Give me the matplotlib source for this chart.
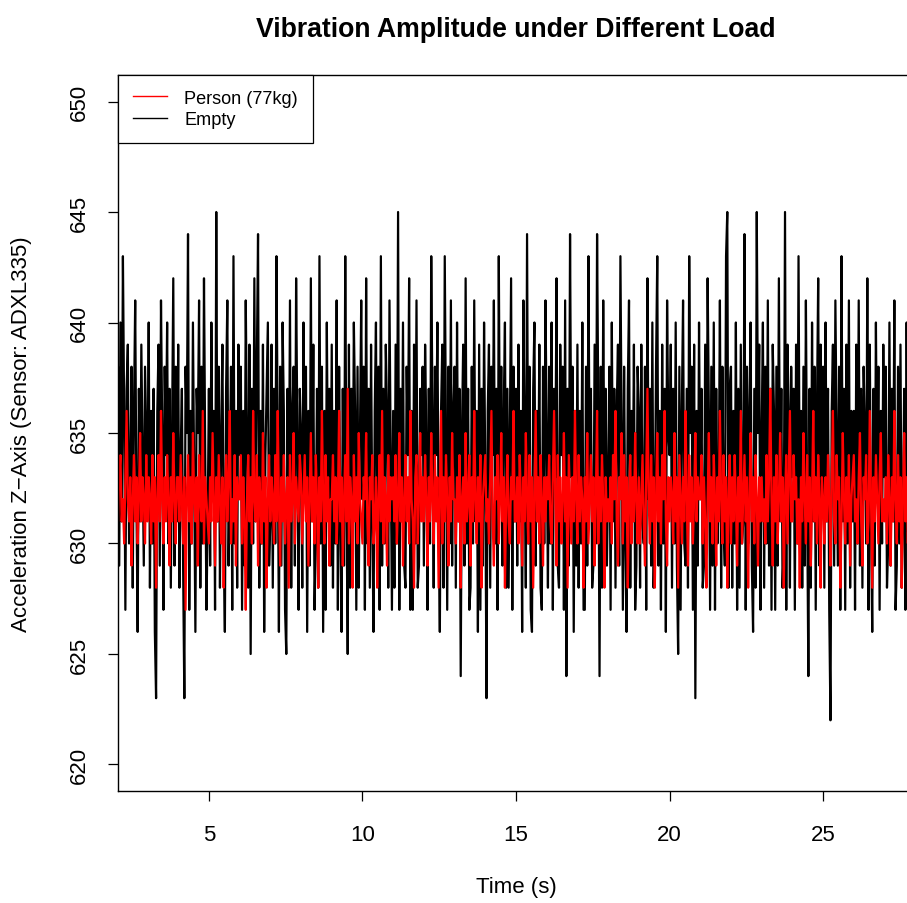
import numpy as np
import matplotlib
matplotlib.use("Agg")
import matplotlib.pyplot as plt

plt.rcParams['font.family'] = ['Liberation Sans', 'DejaVu Sans']

# sampling of both recordings (samples per second, first time stamp)
rate = 25
t_start = 2.0

# acceleration readings, empty platform (one row = one second)
empty = [
    635, 638, 629, 640, 631, 643, 636, 627, 637, 639, 630, 633, 638, 628, 636, 641, 632, 626, 637, 631, 639, 634, 629, 638, 635,
    632, 640, 628, 636, 630, 637, 626, 623, 636, 639, 629, 641, 635, 627, 638, 634, 640, 630, 637, 628, 635, 642, 629, 638, 631,
    639, 628, 634, 637, 629, 623, 638, 635, 644, 627, 636, 630, 640, 633, 626, 637, 635, 641, 628, 638, 630, 642, 634, 627, 631,
    637, 629, 640, 632, 636, 627, 645, 631, 638, 628, 635, 639, 630, 626, 637, 641, 629, 633, 638, 627, 643, 630, 636, 628, 639,
    634, 638, 627, 636, 629, 641, 635, 628, 639, 625, 637, 630, 642, 631, 638, 644, 628, 636, 630, 639, 626, 634, 637, 640, 629,
    631, 639, 628, 637, 630, 643, 635, 626, 638, 629, 640, 636, 627, 625, 637, 630, 641, 628, 636, 638, 629, 642, 635, 627, 637,
    635, 628, 640, 633, 638, 626, 636, 629, 642, 631, 639, 627, 630, 637, 628, 643, 630, 638, 626, 636, 627, 640, 632, 637, 629,
    639, 628, 636, 630, 641, 627, 638, 631, 626, 637, 629, 643, 632, 625, 639, 628, 637, 630, 640, 636, 627, 638, 628, 635, 641,
    632, 638, 627, 642, 630, 637, 628, 639, 631, 626, 636, 640, 629, 638, 627, 643, 629, 637, 630, 639, 636, 628, 641, 634, 627,
    636, 628, 639, 630, 645, 627, 637, 631, 640, 629, 628, 638, 634, 642, 627, 636, 627, 639, 630, 641, 628, 629, 637, 634, 638,
    629, 639, 635, 627, 637, 630, 643, 636, 628, 638, 634, 640, 631, 626, 636, 639, 628, 643, 635, 627, 638, 630, 641, 629, 636,
    638, 628, 640, 631, 637, 624, 635, 639, 629, 642, 630, 637, 627, 628, 638, 630, 641, 631, 636, 626, 639, 627, 637, 629, 640,
    633, 623, 636, 639, 628, 638, 634, 641, 630, 637, 627, 643, 632, 638, 629, 636, 640, 628, 637, 628, 635, 642, 627, 638, 631,
    637, 629, 639, 631, 636, 626, 641, 635, 628, 644, 630, 638, 627, 626, 637, 640, 629, 636, 631, 639, 628, 627, 638, 630, 641,
    635, 628, 638, 630, 640, 627, 637, 633, 642, 629, 628, 639, 634, 638, 627, 641, 624, 637, 629, 644, 633, 638, 626, 636, 629,
    639, 628, 636, 630, 640, 627, 627, 638, 629, 643, 632, 637, 628, 629, 639, 630, 644, 636, 624, 638, 628, 641, 632, 637, 629,
    633, 638, 627, 640, 631, 637, 628, 636, 639, 629, 643, 635, 627, 638, 630, 626, 637, 641, 628, 636, 631, 639, 627, 629, 638,
    636, 628, 639, 631, 630, 638, 627, 642, 632, 637, 629, 640, 628, 631, 638, 643, 629, 636, 627, 639, 630, 637, 626, 641, 635,
    634, 639, 628, 637, 630, 640, 629, 625, 638, 627, 636, 641, 630, 629, 637, 628, 643, 635, 638, 627, 639, 623, 636, 629, 640,
    632, 637, 628, 629, 639, 630, 642, 636, 627, 638, 629, 640, 627, 637, 630, 632, 641, 628, 638, 631, 629, 643, 645, 628, 637,
    638, 628, 636, 630, 640, 627, 637, 628, 639, 630, 631, 644, 627, 638, 630, 636, 640, 629, 626, 637, 628, 645, 635, 639, 627,
    635, 640, 628, 638, 630, 641, 629, 637, 627, 639, 636, 627, 638, 629, 642, 631, 637, 628, 630, 645, 627, 639, 636, 628, 638,
    633, 637, 627, 639, 630, 643, 631, 636, 628, 638, 629, 641, 632, 624, 637, 628, 640, 631, 638, 627, 636, 642, 629, 639, 632,
    638, 628, 640, 631, 637, 627, 622, 636, 639, 629, 641, 635, 629, 638, 627, 643, 631, 637, 627, 639, 630, 641, 628, 636, 631,
    636, 627, 639, 630, 641, 629, 637, 628, 638, 635, 630, 642, 627, 639, 631, 626, 637, 629, 640, 632, 638, 627, 636, 630, 639,
    633, 638, 628, 630, 640, 629, 637, 631, 641, 627, 629, 638, 630, 639, 628, 631, 637, 627, 640, 630, 636, 628, 638, 631, 629,
]

# acceleration readings with a 77 kg person on the platform
person = [
    632, 631, 633, 634, 631, 632, 630, 633, 636, 632, 631, 633, 629, 632, 634, 631, 633, 630, 632, 635, 631, 633, 632, 630, 634,
    631, 633, 632, 630, 634, 631, 633, 628, 632, 634, 631, 636, 632, 630, 633, 631, 634, 632, 629, 633, 631, 635, 632, 630, 633,
    633, 631, 634, 632, 630, 633, 627, 632, 634, 631, 633, 630, 635, 632, 631, 633, 629, 634, 632, 631, 636, 630, 633, 632, 631,
    630, 633, 631, 635, 632, 629, 633, 631, 634, 632, 630, 633, 628, 632, 634, 631, 633, 636, 630, 632, 631, 634, 629, 633, 632,
    632, 634, 630, 633, 631, 627, 632, 634, 631, 633, 630, 636, 632, 631, 634, 629, 633, 632, 630, 635, 631, 633, 628, 632, 634,
    631, 633, 632, 630, 634, 631, 636, 632, 629, 633, 631, 634, 630, 632, 633, 628, 634, 631, 632, 635, 630, 633, 632, 631, 634,
    633, 630, 632, 634, 631, 633, 629, 632, 635, 631, 633, 630, 634, 632, 628, 633, 631, 636, 632, 630, 634, 631, 633, 629, 632,
    632, 634, 631, 633, 630, 632, 636, 631, 633, 629, 632, 634, 631, 637, 630, 633, 632, 628, 634, 631, 633, 630, 635, 632, 631,
    630, 633, 632, 635, 631, 629, 633, 632, 634, 630, 631, 633, 628, 632, 634, 631, 636, 630, 633, 632, 629, 634, 631, 633, 632,
    633, 631, 634, 630, 632, 635, 631, 633, 629, 632, 634, 631, 633, 630, 636, 632, 631, 628, 633, 634, 630, 632, 635, 631, 633,
    631, 634, 632, 629, 633, 631, 635, 632, 630, 634, 631, 633, 628, 632, 636, 630, 633, 631, 634, 632, 629, 633, 631, 635, 632,
    632, 630, 633, 631, 634, 628, 632, 633, 630, 635, 631, 632, 634, 629, 633, 631, 636, 632, 630, 633, 631, 634, 628, 632, 633,
    634, 631, 632, 630, 633, 636, 631, 629, 633, 632, 634, 630, 632, 635, 631, 633, 628, 632, 634, 631, 630, 633, 632, 636, 631,
    631, 633, 630, 634, 632, 629, 633, 631, 635, 632, 630, 634, 631, 633, 628, 632, 636, 631, 633, 630, 634, 632, 629, 633, 631,
    633, 632, 634, 631, 630, 633, 636, 632, 629, 634, 631, 633, 630, 632, 635, 631, 633, 628, 634, 632, 630, 633, 631, 636, 632,
    630, 634, 631, 633, 632, 628, 633, 631, 635, 630, 632, 634, 631, 633, 629, 632, 636, 630, 633, 631, 634, 632, 628, 633, 631,
    632, 631, 633, 630, 634, 632, 636, 631, 629, 633, 632, 635, 630, 634, 631, 633, 628, 632, 634, 630, 633, 631, 635, 632, 630,
    633, 630, 632, 634, 631, 629, 633, 637, 632, 630, 634, 631, 633, 628, 632, 635, 631, 633, 630, 634, 632, 636, 631, 629, 633,
    631, 633, 632, 630, 635, 631, 633, 628, 634, 632, 630, 633, 631, 636, 632, 629, 634, 631, 633, 630, 632, 635, 631, 633, 632,
    632, 634, 630, 633, 631, 628, 632, 635, 631, 633, 630, 634, 632, 629, 633, 631, 636, 632, 630, 634, 631, 633, 628, 632, 634,
    630, 633, 631, 634, 632, 629, 633, 631, 636, 630, 632, 634, 631, 633, 628, 632, 635, 631, 633, 630, 634, 632, 629, 633, 631,
    633, 631, 632, 630, 634, 631, 633, 637, 632, 629, 633, 631, 634, 630, 632, 635, 631, 633, 628, 632, 634, 630, 633, 636, 631,
    631, 634, 632, 633, 630, 632, 628, 633, 631, 635, 632, 630, 634, 631, 633, 629, 632, 636, 631, 633, 630, 634, 632, 628, 633,
    632, 630, 633, 631, 634, 632, 629, 633, 636, 631, 630, 634, 632, 633, 628, 631, 635, 632, 630, 633, 631, 634, 629, 632, 633,
    634, 631, 632, 630, 633, 635, 631, 629, 633, 632, 634, 630, 631, 636, 632, 628, 633, 631, 634, 632, 630, 633, 635, 631, 632,
    631, 633, 630, 634, 632, 629, 633, 631, 636, 632, 630, 634, 631, 633, 628, 632, 635, 631, 633, 630, 634, 632, 636, 631, 633,
]

x_ticks = [5, 10, 15, 20, 25]
y_ticks = [620, 625, 630, 635, 640, 645, 650]

t_empty = t_start + np.arange(len(empty)) / rate
t_person = t_start + np.arange(len(person)) / rate

W, H = 907, 904
fig = plt.figure(figsize=(W / 100, H / 100), dpi=100)
ax = fig.add_axes([118 / W, 1 - 792 / H, (914 - 118) / W, (792 - 76) / H])

ax.plot(t_empty, empty, color='black', lw=1.6, label='Empty')
ax.plot(t_person, person, color='red', lw=1.6, label='Person (77kg)')

ax.set_xlim(2.04, 27.96)
ax.set_ylim(618.8, 651.2)
ax.set_xticks(x_ticks)
ax.set_yticks(y_ticks)
ax.tick_params(direction='out', length=7, width=0.9, labelsize=16)
ax.tick_params(axis='x', pad=17)
ax.tick_params(axis='y', pad=13)
for lab in ax.get_yticklabels():
    lab.set_rotation(90)
    lab.set_va('center')
for s in ax.spines.values():
    s.set_linewidth(1.0)

h, l = ax.get_legend_handles_labels()
leg = ax.legend(h[::-1], l[::-1], loc='upper left', bbox_to_anchor=(0, 1),
                borderaxespad=0, fancybox=False, edgecolor='black',
                framealpha=1, fontsize=13.1, handlelength=1.9,
                handletextpad=0.95, borderpad=0.8, labelspacing=0.27)
leg.get_frame().set_linewidth(0.9)
for ln in leg.get_lines():
    ln.set_linewidth(1.0)

fig.text(516 / W, 1 - 30 / H, 'Vibration Amplitude under Different Load',
         ha='center', va='center', fontsize=19.2, fontweight='bold')
fig.text(516 / W, 1 - 888 / H, 'Time (s)', ha='center', va='center',
         fontsize=16)
fig.text(22 / W, 1 - 434 / H, 'Acceleration Z\u2212Axis (Sensor: ADXL335)',
         ha='center', va='center', rotation=90, fontsize=16)

fig.savefig('out.png', dpi=100)
